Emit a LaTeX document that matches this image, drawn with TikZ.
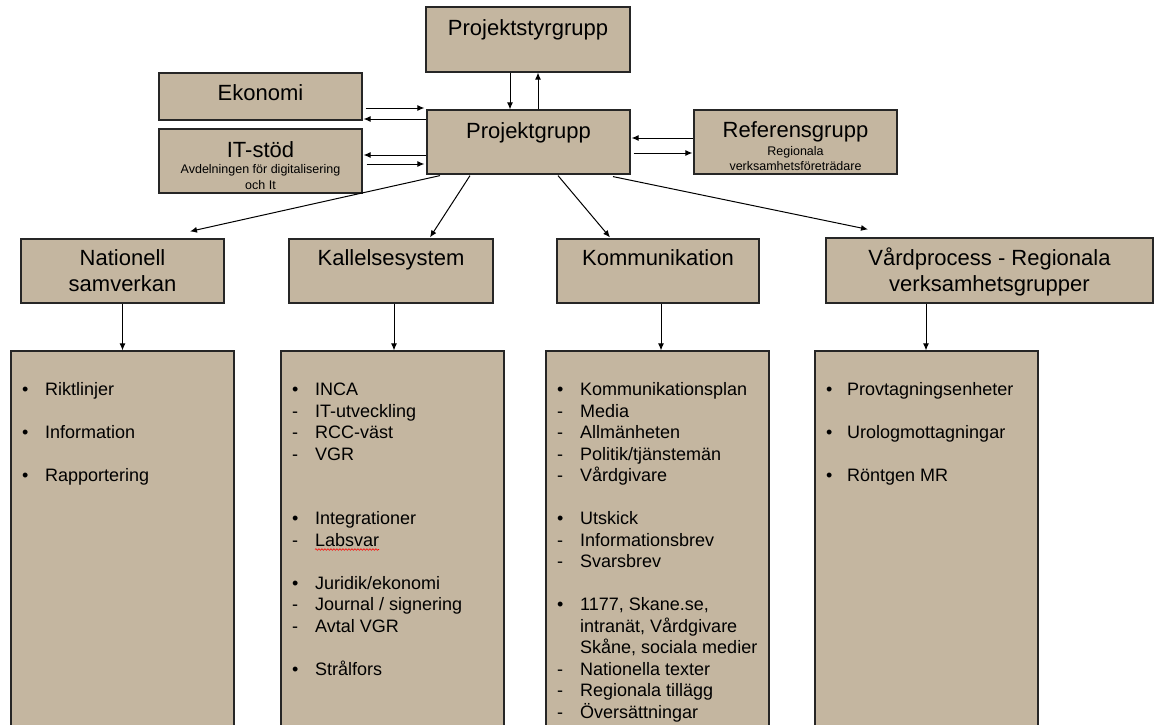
\documentclass[tikz,border=0pt]{standalone}
\usepackage{fontspec}
\setmainfont{Liberation Sans}
\usepackage{tikz}
\usetikzlibrary{arrows.meta,decorations.pathmorphing}
\definecolor{tan}{RGB}{196,182,160}
\tikzstyle{boks}=[draw=black!85,fill=tan,line width=1.2pt,inner sep=0pt]
\tikzstyle{rubrik}=[inner sep=0pt,anchor=base,font=\fontsize{22}{26}\selectfont]
\tikzstyle{liten}=[inner sep=0pt,anchor=base,font=\fontsize{12.5}{15}\selectfont]
\tikzstyle{liste}=[inner sep=0pt,anchor=north west,font=\fontsize{18}{21.5}\selectfont]
\tikzstyle{pil}=[-{Latex[length=7pt,width=6pt]},line width=1pt]

\begin{document}
\begin{tikzpicture}[x=1pt,y=-1pt]
    \useasboundingbox (0,0) rectangle (1154,725);
    \node [boks,minimum width=204,minimum height=65] (styr) at (528,39.5) {};
    \node [boks,minimum width=203,minimum height=47] (ekonomi) at (260.5,96.5) {};
    \node [boks,minimum width=203,minimum height=64] (itstod) at (260.5,161) {};
    \node [boks,minimum width=203,minimum height=64] (pgrupp) at (528.5,142) {};
    \node [boks,minimum width=203,minimum height=64] (refgrupp) at (795.5,142) {};
    \node [boks,minimum width=203,minimum height=64] (nat) at (122.5,271) {};
    \node [boks,minimum width=204,minimum height=64] (kall) at (391,271) {};
    \node [boks,minimum width=202,minimum height=64] (komm) at (658,271) {};
    \node [boks,minimum width=327,minimum height=65] (vard) at (989.5,270.5) {};
    \node [boks,minimum width=223,minimum height=389] (lista1) at (122.5,545.5) {};
    \node [boks,minimum width=223,minimum height=389] (lista2) at (392.5,545.5) {};
    \node [boks,minimum width=223,minimum height=389] (lista3) at (657.5,545.5) {};
    \node [boks,minimum width=223,minimum height=389] (lista4) at (926.5,545.5) {};

    \node [rubrik] (styrtext) at (528,36) {Projektstyrgrupp};
    \node [rubrik] (ekotext) at (260.5,100) {Ekonomi};
    \node [rubrik] (ittext) at (260.5,157) {IT-stöd};
    \node [liten] (itrad1) at (260.5,173.5) {Avdelningen för digitalisering};
    \node [liten] (itrad2) at (260.5,189) {och It};
    \node [rubrik] (ptext) at (528.5,138) {Projektgrupp};
    \node [rubrik] (reftext) at (795.5,137) {Referensgrupp};
    \node [liten] (refrad1) at (795.5,155.3) {Regionala};
    \node [liten] (refrad2) at (795.5,170.3) {verksamhetsföreträdare};
    \node [rubrik] (nattext1) at (122.5,265.7) {Nationell};
    \node [rubrik] (nattext2) at (122.5,291.7) {samverkan};
    \node [rubrik] (kalltext) at (391,265.7) {Kallelsesystem};
    \node [rubrik] (kommtext) at (658,265.7) {Kommunikation};
    \node [rubrik] (vardtext1) at (989.5,265.7) {Vårdprocess - Regionala};
    \node [rubrik] (vardtext2) at (989.5,291.7) {verksamhetsgrupper};

    \node [liste] (punkter1) at (22,380.5) {\begin{tabular}{@{}p{23pt}@{}l@{}}
        \textbullet & Riktlinjer\\
        & \\
        \textbullet & Information\\
        & \\
        \textbullet & Rapportering
    \end{tabular}};
    \node [liste] (punkter2) at (292,380.5) {\begin{tabular}{@{}p{23pt}@{}l@{}}
        \textbullet & INCA\\
        - & IT-utveckling\\
        - & RCC-väst\\
        - & VGR\\
        & \\
        & \\
        \textbullet & Integrationer\\
        - & Labsvar\\
        & \\
        \textbullet & Juridik/ekonomi\\
        - & Journal / signering\\
        - & Avtal VGR\\
        & \\
        \textbullet & Strålfors
    \end{tabular}};
    \node [liste] (punkter3) at (557,380.5) {\begin{tabular}{@{}p{23pt}@{}l@{}}
        \textbullet & Kommunikationsplan\\
        - & Media\\
        - & Allmänheten\\
        - & Politik/tjänstemän\\
        - & Vårdgivare\\
        & \\
        \textbullet & Utskick\\
        - & Informationsbrev\\
        - & Svarsbrev\\
        & \\
        \textbullet & 1177, Skane.se,\\
        & intranät, Vårdgivare\\
        & Skåne, sociala medier\\
        - & Nationella texter\\
        - & Regionala tillägg\\
        - & Översättningar
    \end{tabular}};
    \node [liste] (punkter4) at (826,380.5) {\begin{tabular}{@{}p{21pt}@{}l@{}}
        \textbullet & Provtagningsenheter\\
        & \\
        \textbullet & Urologmottagningar\\
        & \\
        \textbullet & Röntgen MR
    \end{tabular}};
    \draw [red,line width=0.6pt,decorate,decoration={snake,amplitude=0.8pt,segment length=3pt}] (315,549.5) -- (379,549.5);

    \draw [pil] ([shift={(3,11.5)}]ekonomi.east) -- ([shift={(-2,-34)}]pgrupp.west);
    \draw [pil] ([shift={(0,-23)}]pgrupp.west) -- ([shift={(1,22.5)}]ekonomi.east);
    \draw [pil] ([shift={(0,13)}]pgrupp.west) -- ([shift={(1,-6)}]itstod.east);
    \draw [pil] ([shift={(4,3)}]itstod.east) -- ([shift={(-2,22)}]pgrupp.west);
    \draw [pil] ([shift={(-18,0)}]styr.south) -- ([shift={(-18.5,0)}]pgrupp.north);
    \draw [pil] ([shift={(9.5,0)}]pgrupp.north) -- ([shift={(10,0)}]styr.south);
    \draw [pil] ([shift={(0,-4)}]refgrupp.west) -- ([shift={(1,-4)}]pgrupp.east);
    \draw [pil] ([shift={(3,11)}]pgrupp.east) -- ([shift={(-1,11)}]refgrupp.west);
    \draw [pil] ([shift={(-88.5,1)}]pgrupp.south) -- ([shift={(67.5,-7)}]nat.north);
    \draw [pil] ([shift={(-58.5,1)}]pgrupp.south) -- ([shift={(39,-1)}]kall.north);
    \draw [pil] ([shift={(29.5,1)}]pgrupp.south) -- ([shift={(-48,-1)}]komm.north);
    \draw [pil] ([shift={(84.5,2)}]pgrupp.south) -- ([shift={(-121.5,-8)}]vard.north);
    \draw [pil] (nat.south) -- (lista1.north);
    \draw [pil] ([shift={(3,0)}]kall.south) -- ([shift={(1.5,0)}]lista2.north);
    \draw [pil] ([shift={(3,0)}]komm.south) -- ([shift={(3.5,0)}]lista3.north);
    \draw [pil] ([shift={(-63.5,0)}]vard.south) -- ([shift={(-0.5,0)}]lista4.north);
\end{tikzpicture}
\end{document}
